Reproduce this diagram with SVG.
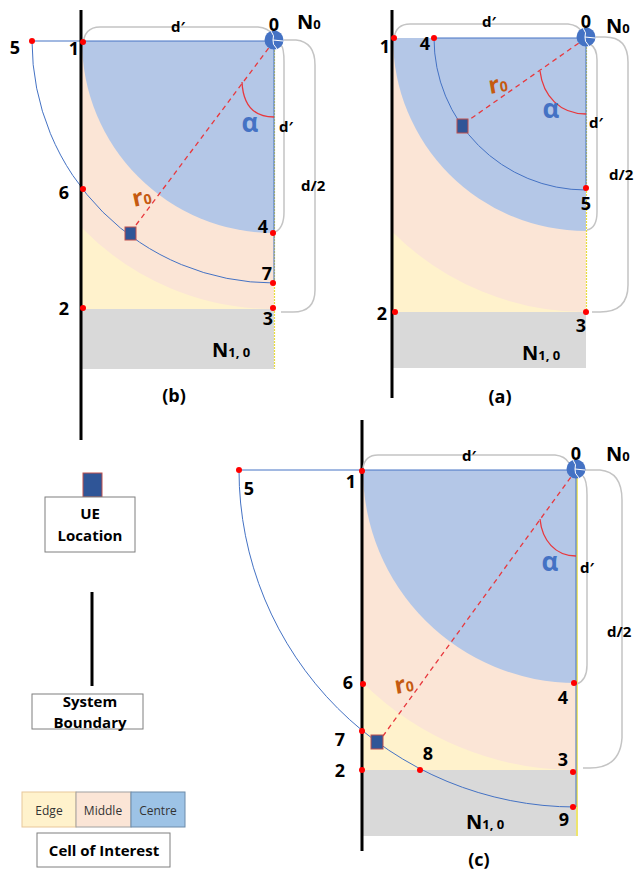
<svg xmlns="http://www.w3.org/2000/svg" width="636" height="879" viewBox="0 0 636 879">
<style>
text{font-family:"Open Sans","Noto Sans","Liberation Sans",sans-serif;fill:#000}
.num{font-size:18px;font-weight:700;text-anchor:middle}
.dp{font-size:15px;font-weight:700;text-anchor:middle}
.dps{font-size:15px;font-weight:700}
.al{font-size:26px;font-weight:700;fill:#4472C4;text-anchor:middle}
.r0{font-size:24px;font-weight:700;fill:#C55A11}
.r0 tspan{font-size:14px}
.sub{font-size:13px}
.nb{font-size:20px;font-weight:700}
.cap{font-size:18px;font-weight:700;text-anchor:middle}
.leg{font-size:15px;font-weight:700;text-anchor:middle}
.legs{font-size:12px;text-anchor:middle;fill:#333}
.edge{fill:#FFF2CC}
.mid{fill:#FBE5D6}
.cen{fill:#B4C7E7}
.grey{fill:#D9D9D9}
.bnd{stroke:#000;stroke-width:3;fill:none}
.sector{fill:none;stroke:#4472C4;stroke-width:1}
.ylw{stroke:#E8DC3C;stroke-width:1.2;stroke-dasharray:2 1}
.dash{stroke:#E8383D;stroke-width:1.3;stroke-dasharray:5 4;fill:none}
.ang{stroke:#E8383D;stroke-width:1.3;fill:none}
.brk{stroke:#C4C4C4;stroke-width:1.5;fill:none}
.dot{fill:#FF0000}
.ue{fill:#2F5597;stroke:#C0504D;stroke-width:1}
.node{fill:#4472C4}
.box{fill:#fff;stroke:#7F7F7F;stroke-width:1}
</style>
<defs>
<g id="n0"><circle r="9.5" class="node"/><path d="M-3,-9 Q1,-4 -1,0 Q-2,4 3,9 M-1,0 L9,1" stroke="#fff" stroke-width="1" fill="none"/></g>
</defs>

<!-- Panel (b) -->
<g id="panel-b">
  <rect x="82" y="41" width="192" height="268" class="edge"/>
  <path d="M274,41 L82,41 L82,228 A268,268 0 0 0 274,309 Z" class="mid"/>
  <path d="M274,41 L82,41 A192,192 0 0 0 274,233 Z" class="cen"/>
  <rect x="82" y="309" width="192" height="60" class="grey"/>
  <line x1="274.5" y1="41" x2="274.5" y2="369" class="ylw"/>
  <path d="M274,41 L32,41 A242,242 0 0 0 274,283 Z" class="sector"/>
  <line x1="81" y1="10" x2="81" y2="440" class="bnd"/>
  <g id="conn-b">
    <line x1="274" y1="41" x2="133" y2="229" class="dash"/>
    <path d="M242,82 C243,103 252,117 274,117" class="ang"/>
    <path d="M83,45 Q84,27 100,27 H258 Q268,28 272,34" class="brk"/>
    <path d="M284,40 H296 Q315,42 315,65 V290 Q315,312 293,312 H281" class="brk"/>
    <path d="M281,45 Q284,48 284,62 V212 Q284,228 275,232" class="brk"/>
  </g>
  <use href="#n0" x="274" y="40"/>
  <rect x="125" y="227" width="11" height="13" class="ue"/>
  <circle cx="32" cy="41" r="3" class="dot"/>
  <circle cx="83" cy="42" r="3" class="dot"/>
  <circle cx="83" cy="189" r="3" class="dot"/>
  <circle cx="83" cy="308" r="3" class="dot"/>
  <circle cx="273" cy="233" r="3" class="dot"/>
  <circle cx="273" cy="283" r="3" class="dot"/>
  <circle cx="273" cy="308" r="3" class="dot"/>
  <text x="274" y="31" class="num">0</text>
  <text x="297" y="29" class="nb">N<tspan class="sub">0</tspan></text>
  <text x="178" y="32" class="dp">d′</text>
  <text x="250" y="132" class="al">α</text>
  <text x="286" y="132" class="dp">d′</text>
  <text x="301" y="191" class="dps">d/2</text>
  <text x="15" y="54" class="num">5</text>
  <text x="74" y="55" class="num">1</text>
  <text x="64" y="199" class="num">6</text>
  <text x="64" y="315" class="num">2</text>
  <text x="263" y="233" class="num">4</text>
  <text x="267" y="280" class="num">7</text>
  <text x="268" y="325" class="num">3</text>
  <text x="212" y="357" class="nb">N<tspan class="sub">1, 0</tspan></text>
  <text x="134" y="207" class="r0" transform="rotate(-12 134 207)">r<tspan>0</tspan></text>
  <text x="174" y="402" class="cap">(b)</text>
</g>

<!-- Panel (a) -->
<g id="panel-a">
  <rect x="393" y="38" width="193" height="274" class="edge"/>
  <path d="M586,38 L393,38 L393,232.5 A274,274 0 0 0 586,312 Z" class="mid"/>
  <path d="M586,38 L393,38 A193,193 0 0 0 586,231 Z" class="cen"/>
  <rect x="393" y="312" width="193" height="56" class="grey"/>
  <line x1="586.5" y1="38" x2="586.5" y2="312" class="ylw"/>
  <path d="M586,38 L434,38 A152,152 0 0 0 586,190 Z" class="sector"/>
  <line x1="392" y1="10" x2="392" y2="398" class="bnd"/>
  <g id="conn-a">
    <line x1="586" y1="38" x2="466" y2="122" class="dash"/>
    <path d="M540,71 C543,96 560,114 586,114" class="ang"/>
    <path d="M394,38 Q396,24 410,24 H568 Q578,25 582,32" class="brk"/>
    <path d="M596,37 H605 Q628,37 628,62 V285 Q628,312 600,312 H592" class="brk"/>
    <path d="M590,44 Q597,48 597,60 V212 Q597,228 587,230" class="brk"/>
  </g>
  <use href="#n0" x="586" y="37"/>
  <rect x="457" y="119" width="11" height="14" class="ue"/>
  <circle cx="394" cy="38" r="3" class="dot"/>
  <circle cx="434" cy="38" r="3" class="dot"/>
  <circle cx="586" cy="188" r="3" class="dot"/>
  <circle cx="395" cy="312" r="3" class="dot"/>
  <circle cx="586" cy="312" r="3" class="dot"/>
  <text x="586" y="28" class="num">0</text>
  <text x="606" y="33" class="nb">N<tspan class="sub">0</tspan></text>
  <text x="489" y="27" class="dp">d′</text>
  <text x="551" y="118" class="al">α</text>
  <text x="596" y="128" class="dp">d′</text>
  <text x="609" y="180" class="dps">d/2</text>
  <text x="385" y="53" class="num">1</text>
  <text x="425" y="50" class="num">4</text>
  <text x="586" y="210" class="num">5</text>
  <text x="382" y="320" class="num">2</text>
  <text x="581" y="332" class="num">3</text>
  <text x="522" y="360" class="nb">N<tspan class="sub">1, 0</tspan></text>
  <text x="490" y="94" class="r0" transform="rotate(-10 490 94)">r<tspan>0</tspan></text>
  <text x="500" y="403" class="cap">(a)</text>
</g>

<!-- Panel (c) -->
<g id="panel-c">
  <rect x="363" y="470" width="213" height="300" class="edge"/>
  <path d="M576,470 L363,470 L363,683 A302,302 0 0 0 576,770 Z" class="mid"/>
  <path d="M576,470 L363,470 A213,213 0 0 0 576,683 Z" class="cen"/>
  <rect x="363" y="770" width="213" height="66" class="grey"/>
  <line x1="577" y1="470" x2="577" y2="836" stroke="#E8DC3C" stroke-width="1.5"/>
  <path d="M576,470 L239,470 A337,337 0 0 0 576,807 Z" class="sector"/>
  <line x1="362" y1="420" x2="362" y2="851" class="bnd"/>
  <g id="conn-c">
    <line x1="576" y1="470" x2="383" y2="736" class="dash"/>
    <path d="M540,519 C542,540 555,556 576,556" class="ang"/>
    <path d="M363,468 Q365,455 378,455 H555 Q565,456 569,463" class="brk"/>
    <path d="M584,470 H600 Q622,472 622,500 V738 Q620,768 590,768 H583" class="brk"/>
    <path d="M583,476 Q587,480 587,495 V665 Q587,680 577,684" class="brk"/>
  </g>
  <use href="#n0" x="576" y="469"/>
  <rect x="371" y="735" width="12" height="14" class="ue"/>
  <circle cx="239" cy="470" r="3" class="dot"/>
  <circle cx="362" cy="471" r="3" class="dot"/>
  <circle cx="363" cy="684" r="3" class="dot"/>
  <circle cx="362" cy="731" r="3" class="dot"/>
  <circle cx="362" cy="770" r="3" class="dot"/>
  <circle cx="420" cy="770" r="3" class="dot"/>
  <circle cx="574" cy="683" r="3" class="dot"/>
  <circle cx="573" cy="772" r="3" class="dot"/>
  <circle cx="573" cy="807" r="3" class="dot"/>
  <text x="576" y="460" class="num">0</text>
  <text x="606" y="461" class="nb">N<tspan class="sub">0</tspan></text>
  <text x="469" y="461" class="dp">d′</text>
  <text x="550" y="571" class="al">α</text>
  <text x="587" y="573" class="dp">d′</text>
  <text x="607" y="637" class="dps">d/2</text>
  <text x="249" y="495" class="num">5</text>
  <text x="351" y="488" class="num">1</text>
  <text x="348" y="689" class="num">6</text>
  <text x="340" y="746" class="num">7</text>
  <text x="428" y="760" class="num">8</text>
  <text x="340" y="777" class="num">2</text>
  <text x="563" y="704" class="num">4</text>
  <text x="563" y="766" class="num">3</text>
  <text x="564" y="826" class="num">9</text>
  <text x="466" y="829" class="nb">N<tspan class="sub">1, 0</tspan></text>
  <text x="396" y="694" class="r0" transform="rotate(-10 396 694)">r<tspan>0</tspan></text>
  <text x="479" y="866" class="cap">(c)</text>
</g>

<!-- Legend -->
<g id="legend-ue">
  <rect x="83" y="473" width="19" height="24" class="ue"/>
  <rect x="45" y="497" width="90" height="55" class="box"/>
  <text x="90" y="519" class="leg">UE</text>
  <text x="90" y="541" class="leg">Location</text>
</g>
<g id="legend-boundary">
  <line x1="92" y1="592" x2="92" y2="686" class="bnd"/>
  <rect x="32" y="694" width="111" height="35" class="box"/>
  <text x="90" y="707" class="leg">System</text>
  <text x="90" y="728" class="leg">Boundary</text>
</g>
<g id="legend-cell">
  <rect x="22" y="792" width="54" height="35" fill="#FFF2CC" stroke="#E8C79A" stroke-width="1"/>
  <rect x="76" y="792" width="55" height="35" fill="#FBE5D6" stroke="#A0A0A0" stroke-width="1"/>
  <rect x="131" y="792" width="54" height="35" fill="#9DC3E6" stroke="#6C8BAA" stroke-width="1"/>
  <text x="49" y="815" class="legs">Edge</text>
  <text x="103" y="815" class="legs">Middle</text>
  <text x="158" y="815" class="legs">Centre</text>
  <rect x="37" y="833" width="133" height="34" class="box"/>
  <text x="104" y="856" class="leg">Cell of Interest</text>
</g>
</svg>
